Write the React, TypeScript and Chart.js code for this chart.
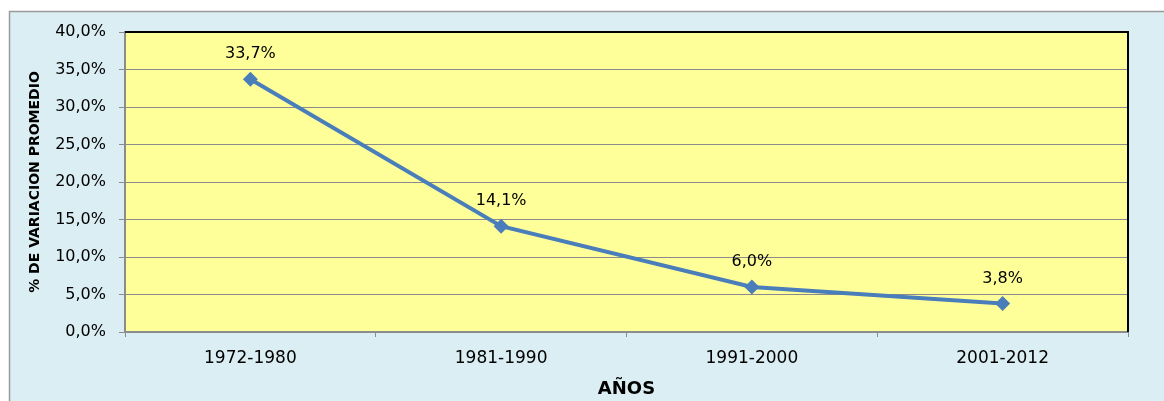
import React, { useEffect, useRef } from "react";
import { Chart, registerables } from "chart.js";

Chart.register(...registerables);

const categories = ["1972-1980", "1981-1990", "1991-2000", "2001-2012"];
const values = [33.7, 14.1, 6.0, 3.8];
const yTicks = [0, 5, 10, 15, 20, 25, 30, 35, 40];
const yTitle = "% DE VARIACION PROMEDIO";
const xTitle = "AÑOS";

const fmt = (v: number) => v.toFixed(1).replace(".", ",") + "%";

const framePlugin = {
  id: "frame",
  beforeDraw(chart: any) {
    const { ctx, chartArea } = chart;
    ctx.save();
    ctx.fillStyle = "#ffffff";
    ctx.fillRect(0, 0, chart.width, chart.height);
    ctx.fillStyle = "#DBEEF4";
    ctx.fillRect(9, 11, chart.width, chart.height);
    ctx.strokeStyle = "#9a9a9a";
    ctx.lineWidth = 1.5;
    ctx.beginPath();
    ctx.moveTo(9.5, chart.height + 2);
    ctx.lineTo(9.5, 11.5);
    ctx.lineTo(chart.width + 2, 11.5);
    ctx.stroke();
    ctx.fillStyle = "#FFFF99";
    ctx.fillRect(chartArea.left, chartArea.top, chartArea.right - chartArea.left, chartArea.bottom - chartArea.top);
    ctx.restore();
  },
  afterDatasetsDraw(chart: any) {
    const { ctx, chartArea } = chart;
    ctx.save();
    ctx.strokeStyle = "#000000";
    ctx.lineWidth = 2;
    ctx.beginPath();
    ctx.moveTo(chartArea.left, chartArea.top);
    ctx.lineTo(chartArea.right, chartArea.top);
    ctx.lineTo(chartArea.right, chartArea.bottom);
    ctx.stroke();
    const meta = chart.getDatasetMeta(0);
    ctx.fillStyle = "#000000";
    ctx.font = "16px 'DejaVu Sans'";
    ctx.textAlign = "center";
    ctx.textBaseline = "middle";
    meta.data.forEach((pt: any, i: number) => {
      ctx.fillText(fmt(values[i]), pt.x, pt.y - 25);
    });
    ctx.restore();
  },
};

export default function App() {
  const ref = useRef<HTMLCanvasElement | null>(null);
  useEffect(() => {
    document.body.style.margin = "0";
    const canvas = ref.current!;
    const chart = new Chart(canvas, {
      type: "line",
      data: {
        labels: categories,
        datasets: [
          {
            data: values,
            borderColor: "#4A7EBB",
            backgroundColor: "#4A7EBB",
            borderWidth: 4,
            pointStyle: "rectRot",
            pointRadius: 7.5,
            pointBorderWidth: 0,
            tension: 0,
          },
        ],
      },
      options: {
        responsive: false,
        animation: false,
        devicePixelRatio: 1,
        layout: { padding: { left: 0, top: 32, right: 36, bottom: 0 } },
        plugins: { legend: { display: false }, tooltip: { enabled: false } },
        scales: {
          x: {
            type: "category",
            offset: true,
            grid: {
              display: true,
              drawOnChartArea: false,
              drawTicks: true,
              tickLength: 5,
              offset: true,
              color: "#8c8c8c",
            },
            border: { color: "#8c8c8c", width: 2 },
            ticks: {
              color: "#000000",
              font: { family: "'DejaVu Sans'", size: 17 },
              padding: 11,
              maxRotation: 0,
            },
            title: {
              display: true,
              text: xTitle,
              color: "#000000",
              font: { family: "'DejaVu Sans'", size: 18, weight: "bold" },
              padding: { top: 0, bottom: 1 },
            },
            afterFit: (s: any) => {
              s.height = 69;
            },
          },
          y: {
            min: 0,
            max: 40,
            afterBuildTicks: (s: any) => {
              s.ticks = yTicks.map((v) => ({ value: v }));
            },
            grid: { color: "#8c8c8c", lineWidth: 1, drawTicks: true, tickLength: 6 },
            border: { color: "#8c8c8c", width: 2 },
            ticks: {
              color: "#000000",
              font: { family: "'DejaVu Sans'", size: 16 },
              padding: 13,
              callback: (v: any) => fmt(Number(v)),
            },
            title: {
              display: true,
              text: yTitle,
              color: "#000000",
              font: { family: "'DejaVu Sans'", size: 14, weight: "bold" },
              padding: { top: 27, bottom: 0 },
            },
            afterFit: (s: any) => {
              s.width = 125;
            },
          },
        },
      },
      plugins: [framePlugin],
    });
    return () => chart.destroy();
  }, []);
  return (
    <div style={{ width: 1164, height: 401 }}>
      <canvas ref={ref} width={1164} height={401} />
    </div>
  );
}
